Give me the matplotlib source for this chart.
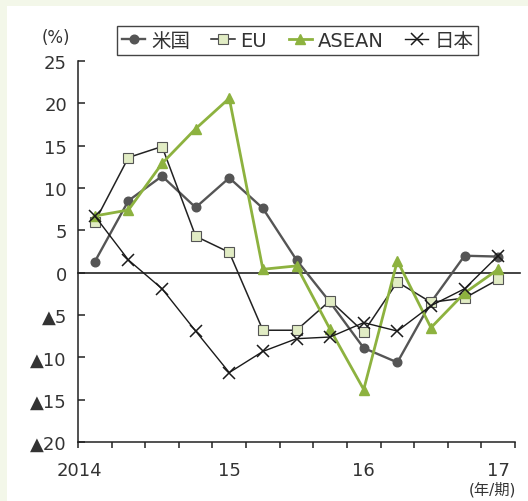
import matplotlib
matplotlib.use('Agg')
import matplotlib.pyplot as plt
from matplotlib.patches import Rectangle

plt.rcParams['font.family'] = ['DejaVu Sans', 'Noto Sans CJK JP']

# 2014Q1 .. 2017Q1
quarters = list(range(13))
us = [1.3, 8.5, 11.4, 7.7, 11.2, 7.6, 1.5, -3.5, -8.9, -10.6, -3.5, 2.0, 1.9]
eu = [6.0, 13.6, 14.9, 4.3, 2.4, -6.8, -6.8, -3.3, -7.0, -1.1, -3.5, -3.0, -0.8]
asean = [6.7, 7.4, 12.9, 17.0, 20.6, 0.4, 0.8, -6.7, -13.8, 1.4, -6.5, -2.4, 0.4]
japan = [6.7, 1.5, -1.9, -6.9, -11.8, -9.3, -7.8, -7.6, -5.9, -6.9, -3.9, -1.9, 2.0]

series_names = ['米国', 'EU', 'ASEAN', '日本']
y_ticks = [25, 20, 15, 10, 5, 0, -5, -10, -15, -20]
y_labels = ['25', '20', '15', '10', '5', '0', '▲5', '▲10', '▲15', '▲20']
year_labels = ['2014', '15', '16', '17']

fig = plt.figure(figsize=(5.28, 5.02), dpi=100)
fig.patch.set_facecolor('#f3f7e9')
fig.patches.append(Rectangle((7 / 528, 0), 1, 495 / 502, transform=fig.transFigure,
                             facecolor='white', edgecolor='none', zorder=-10))

ax = fig.add_axes([78 / 528, 59 / 502, 437 / 528, 381 / 502])
ax.set_facecolor('none')

x = [q + 0.5 for q in quarters]
l1, = ax.plot(x, us, color='#555555', lw=1.7, marker='o', ms=6.2, zorder=3)
l2, = ax.plot(x, eu, color='#222222', lw=1.1, marker='s', ms=6.5, mfc='#e1ecc4',
              mec='#555555', mew=0.8, zorder=4)
l3, = ax.plot(x, asean, color='#8db23f', lw=2.0, marker='^', ms=7, zorder=5)
l4, = ax.plot(x, japan, color='#1a1a1a', lw=1.0, marker='x', ms=8.5, mew=1.1, zorder=6)

ax.axhline(0, color='#222222', lw=1.2, xmax=1.011, clip_on=False, zorder=2)

ax.set_xlim(0, 13)
ax.set_ylim(-20, 25)
for s in ['top', 'right']:
    ax.spines[s].set_visible(False)
for s in ['left', 'bottom']:
    ax.spines[s].set_color('#222222')
    ax.spines[s].set_linewidth(1.1)

ax.set_yticks(y_ticks)
ax.set_yticklabels(y_labels)
ax.tick_params(axis='y', direction='in', length=5, width=1.1, pad=8,
               labelsize=13, labelcolor='#333333', color='#222222')
ax.set_xticks(range(14))
ax.set_xticklabels([])
ax.tick_params(axis='x', direction='out', length=4, width=1.1, color='#222222')

year_pos = [0.05, 4.5, 8.5, 12.5]
for p, lab in zip(year_pos, year_labels):
    ax.text(p, -22.3, lab, ha='center', va='top', fontsize=13, color='#333333',
            transform=ax.transData, clip_on=False)

fig.text(56 / 528, 1 - 38 / 502, '(%)', ha='center', va='center', fontsize=12, color='#333333')
fig.text(516 / 528, 1 - 490 / 502, '(年/期)', ha='right', va='center', fontsize=11, color='#333333')

leg = fig.legend([l1, l2, l3, l4], series_names, ncol=4, loc='center',
                 bbox_to_anchor=(297.5 / 528, 1 - 41.5 / 502), fontsize=14,
                 handlelength=1.2, handletextpad=0.3, columnspacing=1.1,
                 borderpad=0.25, borderaxespad=0.3, fancybox=False, framealpha=1)
leg.get_frame().set_edgecolor('#444444')
leg.get_frame().set_linewidth(1.0)
for t in leg.get_texts():
    t.set_color('#333333')

fig.savefig('out.png', dpi=100)
